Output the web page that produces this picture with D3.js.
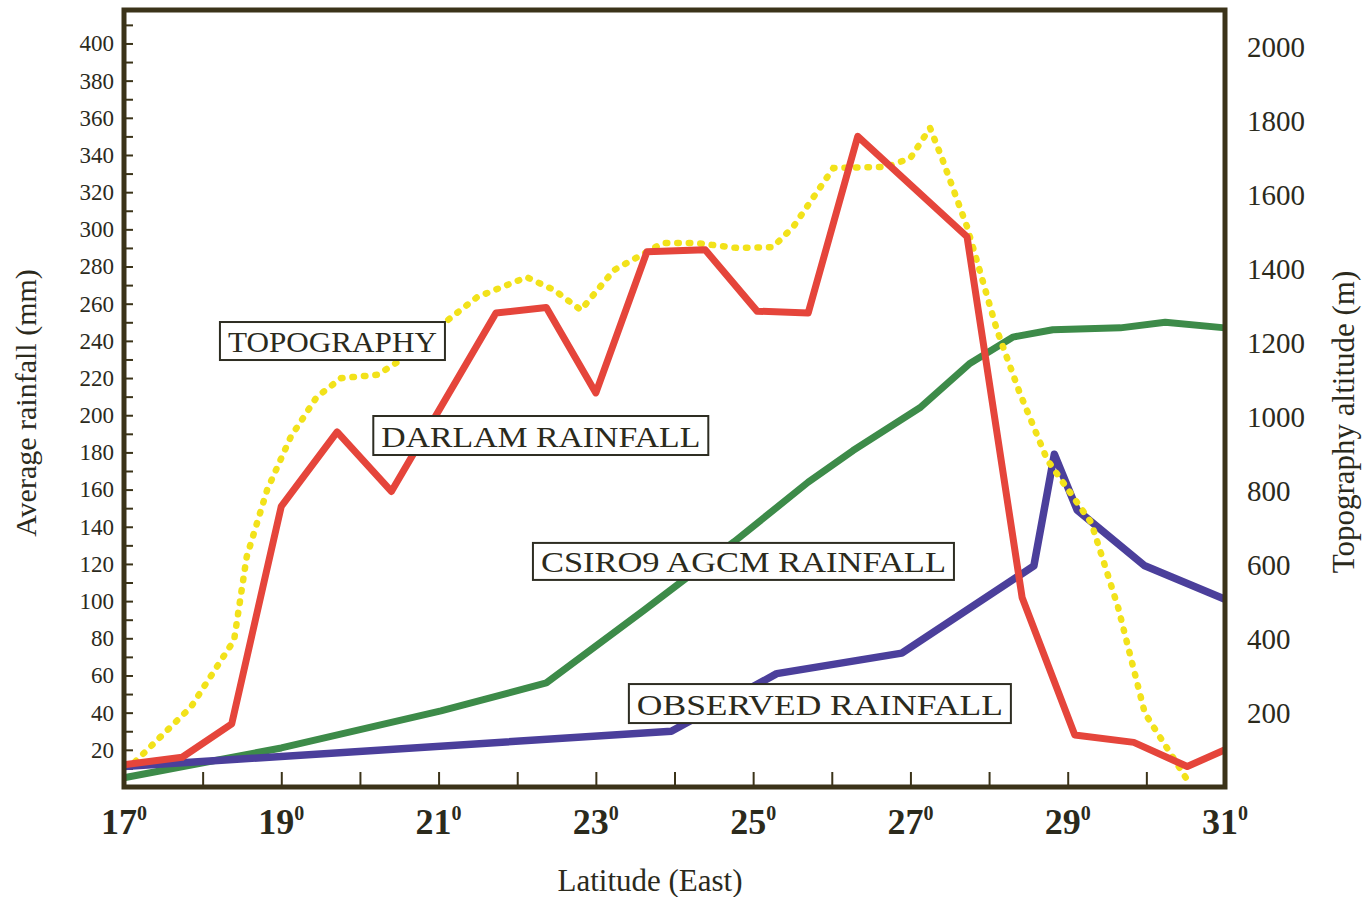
<!DOCTYPE html>
<html>
<head>
<meta charset="utf-8">
<script src="https://cdn.jsdelivr.net/npm/d3@7"></script>
<style>
  body { margin: 0; background: #fff; }
  svg { display: block; font-family: 'Liberation Serif', 'Times New Roman', serif; }
</style>
</head>
<body>
<div class="container"></div>
<script>
// DARLAM rainfall (mm, left axis)
const darlamLat = [17.0, 17.74, 18.37, 19.0, 19.71, 20.4, 21.73, 22.37, 23.0, 23.65, 24.39, 25.05, 25.7, 26.33, 27.72, 28.42, 29.09, 29.84, 30.52, 31.0];
const darlamRain = [12, 16, 34, 151, 191, 159, 255, 258, 212, 288, 289, 256, 255, 350, 296, 102, 28, 24, 11, 20];

// CSIRO9 AGCM rainfall (mm, left axis)
const csiroLat = [17.0, 19.0, 21.03, 22.37, 23.61, 24.76, 25.7, 26.27, 27.12, 27.76, 28.3, 28.81, 29.67, 30.24, 31.0];
const csiroRain = [5, 21, 41, 56, 95, 132, 164, 181, 204, 228, 242, 246, 247, 250, 247];

// observed rainfall (mm, left axis)
const observedLat = [17.0, 23.96, 25.3, 26.89, 28.57, 28.83, 29.12, 29.98, 31.0];
const observedRain = [11, 30, 61, 72, 119, 179, 149, 119, 101];

// topography (m, right axis)
const topoLat = [17.14, 17.85, 18.4, 18.56, 18.82, 19.12, 19.45, 19.76, 20.22, 20.52, 21.07, 21.49, 22.12, 22.47, 22.81, 23.23, 23.85, 24.29, 24.79, 25.25, 25.51, 26.02, 26.7, 27.0, 27.25, 27.4, 27.72, 28.1, 28.39, 28.74, 29.3, 29.64, 29.98, 30.52];
const topoAlt = [68, 216, 397, 622, 803, 946, 1054, 1105, 1114, 1154, 1254, 1324, 1378, 1343, 1289, 1397, 1470, 1470, 1457, 1459, 1514, 1673, 1676, 1700, 1781, 1700, 1514, 1235, 1065, 884, 714, 486, 200, 19];

const latTicks = d3.range(17, 32, 1);
const latLabels = [17, 19, 21, 23, 25, 27, 29, 31];
const rainTicks = d3.range(10, 411, 10);
const altLabels = [200, 400, 600, 800, 1000, 1200, 1400, 1600, 1800, 2000];

// boxed series names, anchored at lower-left corner in data units
const boxNames = ['TOPOGRAPHY', 'DARLAM RAINFALL', 'CSIRO9 AGCM RAINFALL', 'OBSERVED RAINFALL'];
const boxLat = [18.22, 20.17, 22.2, 23.42];
const boxRain = [229.7, 178.6, 111.4, 34.4];
const boxSize = [[225, 38], [335, 39], [421, 37], [382, 39]];

const w = 1365;
const h = 897;
const m = { left: 124, right: 1225, top: 10, bottom: 787 };
const frameColor = '#3b3319';
const textColor = '#2b2a1c';

const svg = d3.select('.container').append('svg').attr('width', w).attr('height', h);

const xScale = d3.scaleLinear().domain([17, 31]).range([m.left, m.right]);
const yRain = d3.scaleLinear().domain([0, 418]).range([m.bottom, m.top]);
const yAlt = d3.scaleLinear().domain([0, 2100]).range([m.bottom, m.top]);

// left axis: inward ticks every 10, labels every 20
const yAxis = d3.axisLeft(yRain)
  .tickValues(rainTicks)
  .tickSize(-9)
  .tickPadding(10)
  .tickFormat((d) => (d % 20 === 0 ? d : ''));
const gy = svg.append('g').attr('transform', `translate(${m.left},0)`).call(yAxis);
gy.select('.domain').remove();
gy.selectAll('line').attr('stroke', frameColor).attr('stroke-width', 2);
gy.selectAll('text').attr('fill', textColor).style('font-size', '23px').style('font-family', 'Liberation Serif');

// right axis: labels only
const yAxisR = d3.axisRight(yAlt).tickValues(altLabels).tickSize(0).tickPadding(22).tickFormat(d3.format('d'));
const gyR = svg.append('g').attr('transform', `translate(${m.right},0)`).call(yAxisR);
gyR.select('.domain').remove();
gyR.selectAll('text').attr('fill', textColor).style('font-size', '29px').style('font-family', 'Liberation Serif');

// bottom axis: inward ticks
const xAxis = d3.axisBottom(xScale).tickValues(latTicks.slice(1, -1)).tickSize(-15).tickFormat('');
const gx = svg.append('g').attr('transform', `translate(0,${m.bottom})`).call(xAxis);
gx.select('.domain').remove();
gx.selectAll('line').attr('stroke', frameColor).attr('stroke-width', 2);

const xl = svg.append('g').selectAll('text').data(latLabels).enter().append('text')
  .attr('x', (d) => xScale(d))
  .attr('y', 834)
  .attr('text-anchor', 'middle')
  .attr('fill', textColor)
  .style('font-size', '36px')
  .style('font-weight', 'bold');
xl.append('tspan').text((d) => d);
xl.append('tspan').attr('dy', -14).style('font-size', '20px').text('0');

// lines
const line = (xs, yScale) => d3.line().x((d, i) => xScale(xs[i])).y((d) => yScale(d));

const plot = svg.append('g');
plot.append('path').datum(csiroRain).attr('d', line(csiroLat, yRain))
  .attr('fill', 'none').attr('stroke', '#3d8b49').attr('stroke-width', 7).attr('stroke-linejoin', 'round');
plot.append('path').datum(observedRain).attr('d', line(observedLat, yRain))
  .attr('fill', 'none').attr('stroke', '#4b3f9b').attr('stroke-width', 7.5).attr('stroke-linejoin', 'round');
plot.append('path').datum(topoAlt).attr('d', line(topoLat, yAlt))
  .attr('fill', 'none').attr('stroke', '#f2e21a').attr('stroke-width', 6.5)
  .attr('stroke-dasharray', '1.5 10').attr('stroke-linecap', 'round');
plot.append('path').datum(darlamRain).attr('d', line(darlamLat, yRain))
  .attr('fill', 'none').attr('stroke', '#e5453b').attr('stroke-width', 7).attr('stroke-linejoin', 'round');

// boxed labels
boxNames.forEach((name, i) => {
  const [bw, bh] = boxSize[i];
  const bx = xScale(boxLat[i]);
  const by = yRain(boxRain[i]) - bh;
  svg.append('rect').attr('x', bx).attr('y', by).attr('width', bw).attr('height', bh)
    .attr('fill', '#fff').attr('stroke', '#2e2d22').attr('stroke-width', 2);
  svg.append('text').attr('x', bx + bw / 2).attr('y', by + bh - 8)
    .attr('text-anchor', 'middle').attr('fill', textColor)
    .attr('textLength', bw - 16).attr('lengthAdjust', 'spacingAndGlyphs')
    .style('font-size', '30px').text(name);
});

// frame
svg.append('rect').attr('x', m.left).attr('y', m.top).attr('width', m.right - m.left).attr('height', m.bottom - m.top)
  .attr('fill', 'none').attr('stroke', frameColor).attr('stroke-width', 5);

// axis titles
svg.append('text').attr('transform', 'rotate(-90)').attr('x', -403).attr('y', 36)
  .attr('text-anchor', 'middle').attr('fill', textColor).style('font-size', '30px')
  .text('Average rainfall (mm)');
svg.append('text').attr('transform', 'rotate(-90)').attr('x', -422).attr('y', 1354)
  .attr('text-anchor', 'middle').attr('fill', textColor).style('font-size', '31px')
  .text('Topography altitude (m)');
svg.append('text').attr('x', 650).attr('y', 891).attr('text-anchor', 'middle')
  .attr('fill', textColor).style('font-size', '31px').text('Latitude (East)');
</script>
</body>
</html>
